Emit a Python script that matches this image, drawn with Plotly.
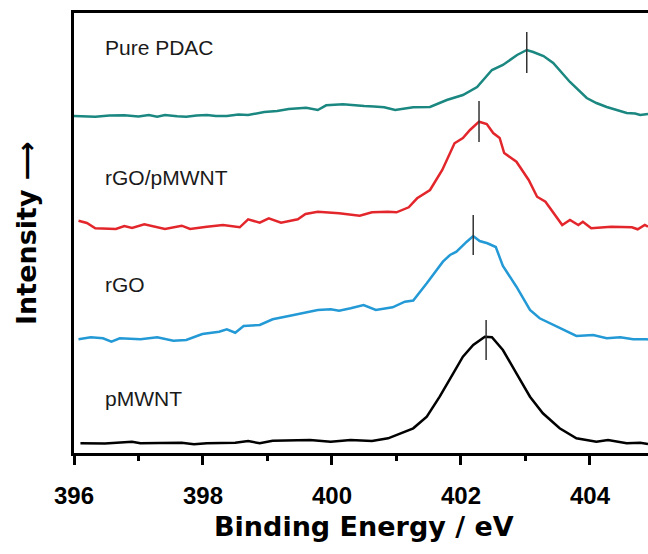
import plotly.graph_objects as go

# ---- data (binding energy in eV, intensity in arbitrary stacked units) ----
energy_pdac = [396.00, 396.33, 396.55, 396.78, 397.00, 397.16, 397.29, 397.41, 397.60, 397.74, 397.90,
               398.06, 398.20, 398.37, 398.55, 398.70, 398.95, 399.15, 399.33, 399.60, 399.78, 399.91,
               400.17, 400.35, 400.50, 400.65, 400.81, 400.98, 401.26, 401.52, 401.78, 402.03, 402.25,
               402.48, 402.65, 402.87, 403.02, 403.12, 403.28, 403.43, 403.69, 403.95, 404.10, 404.26,
               404.40, 404.57, 404.70, 404.78, 404.90]
int_pdac = [337, 336.3, 337.5, 337.7, 336.5, 338, 336.3, 338, 336.8, 336.3, 337.5,
            338, 337, 337, 338.5, 338, 341, 342, 344, 345.3, 343, 347.7,
            348.7, 347.5, 347, 346.5, 345.7, 343, 345.7, 346, 353, 358, 366,
            383, 388, 398, 403, 401, 397, 390, 371, 355, 350, 346,
            343, 340, 339.5, 338, 339]

energy_rgo_pmwnt = [396.07, 396.20, 396.33, 396.65, 396.78, 396.90, 397.09, 397.25, 397.41, 397.67, 397.80,
                    398.06, 398.31, 398.57, 398.70, 398.88, 399.02, 399.21, 399.47, 399.59, 399.78,
                    400.11, 400.43, 400.62, 400.87, 401.00, 401.19, 401.32, 401.52, 401.71, 401.90,
                    402.03, 402.14, 402.28, 402.40, 402.50, 402.60, 402.67, 402.86, 403.05, 403.18,
                    403.31, 403.57, 403.69, 403.82, 403.89, 404.02, 404.33, 404.65, 404.74, 404.85, 404.90]
int_rgo_pmwnt = [232.3, 230, 224.7, 224, 227, 225, 228.7, 226, 224, 227.3, 224,
                 226.3, 228, 225.7, 233.7, 230.3, 234.7, 230.3, 233.7, 239, 241.3,
                 239.7, 237.3, 240.7, 241.3, 240.7, 245.7, 254.7, 263, 283, 309.7,
                 315, 323, 331.3, 329, 320, 315, 300, 291.3, 273, 256.3,
                 251.3, 228, 233, 228, 231.3, 224.7, 226.3, 225.7, 223.7, 228, 226.3]

energy_rgo = [396.07, 396.26, 396.45, 396.58, 396.71, 397.03, 397.29, 397.54, 397.74, 397.99, 398.25,
              398.37, 398.50, 398.63, 398.88, 399.08, 399.33, 399.59, 399.78, 399.98, 400.11, 400.29,
              400.49, 400.68, 400.94, 401.13, 401.26, 401.47, 401.72, 401.83, 401.93, 402.09, 402.19,
              402.29, 402.41, 402.54, 402.65, 402.86, 403.07, 403.22, 403.48, 403.79, 404.05, 404.26,
              404.47, 404.67, 404.88, 404.90]
int_rgo = [113.7, 115.7, 114.7, 111.3, 114.7, 113.7, 115.7, 112.3, 113, 119, 121.3,
           123.7, 120.3, 127, 128, 133.7, 137, 140.3, 143, 143.7, 142.3, 144.7,
           148, 143, 145.7, 151.3, 152.5, 169.7, 191.3, 198, 201.3, 211.3, 217,
           212, 209.7, 206, 187, 166.3, 143, 134.7, 126.3, 117, 118, 114.7,
           115.7, 113.7, 113.7, 113.5]

energy_pmwnt = [396.10, 396.48, 396.90, 397.03, 397.33, 397.67, 397.86, 398.06, 398.50, 398.70, 398.88,
                399.08, 399.66, 399.98, 400.29, 400.62, 400.87, 401.00, 401.26, 401.47, 401.67, 401.88,
                402.03, 402.19, 402.37, 402.48, 402.65, 402.86, 403.07, 403.27, 403.53, 403.79, 404.10,
                404.28, 404.57, 404.78, 404.90]
int_pmwnt = [9.7, 9.5, 11.3, 9.7, 10, 10.3, 8.7, 9.7, 10.3, 12, 9.7,
             12.3, 13, 11.3, 13, 12, 14.7, 18, 24.7, 36.3, 56.3, 79.7,
             96.3, 108, 116.3, 115.7, 103, 79.7, 56.3, 39.7, 24.7, 14.7, 11.3,
             13, 9.7, 10.3, 9]

series_names = ["Pure PDAC", "rGO/pMWNT", "rGO", "pMWNT"]
series_colors = ["#1a8780", "#e3262b", "#2399d6", "#000000"]

peak_positions = [403.02, 402.28, 402.19, 402.39]
peak_marker_low = [380, 311, 198, 93]
peak_marker_high = [421, 352, 238, 133]

label_x = 396.45
label_y = [406, 276, 169, 55]

x_tickvals = [396, 398, 400, 402, 404]
x_range = [396, 404.9]
y_range = [0, 440]

energies = [energy_pdac, energy_rgo_pmwnt, energy_rgo, energy_pmwnt]
intensities = [int_pdac, int_rgo_pmwnt, int_rgo, int_pmwnt]

fig = go.Figure()
for e, v, name, col in zip(energies, intensities, series_names, series_colors):
    fig.add_trace(go.Scatter(x=e, y=v, mode="lines", name=name,
                             line=dict(color=col, width=2.5), showlegend=False,
                             hoverinfo="skip"))

for xp, lo, hi in zip(peak_positions, peak_marker_low, peak_marker_high):
    fig.add_trace(go.Scatter(x=[xp, xp], y=[lo, hi], mode="lines",
                             line=dict(color="#333333", width=1.5), showlegend=False,
                             hoverinfo="skip"))

for name, ly in zip(series_names, label_y):
    fig.add_annotation(x=label_x, y=ly, xref="x", yref="y", text=name, showarrow=False,
                       xanchor="left", yanchor="middle",
                       font=dict(family="Liberation Sans, Arial, sans-serif", size=21, color="#1a1a1a"))

fig.add_annotation(x=-0.0836, y=0.5, xref="paper", yref="paper", text="Intensity ⟶",
                   textangle=-90, showarrow=False, xanchor="center", yanchor="middle",
                   font=dict(family="DejaVu Sans", size=27, color="#000000", weight="bold"))
fig.add_annotation(x=0.505, y=-0.168, xref="paper", yref="paper", text="Binding Energy / eV",
                   showarrow=False, xanchor="center", yanchor="middle",
                   font=dict(family="DejaVu Sans", size=27, color="#000000", weight="bold"))

fig.update_xaxes(range=x_range, tickvals=x_tickvals, ticktext=[str(v) for v in x_tickvals],
                 showline=True, linecolor="#000000", linewidth=2.5, mirror=True,
                 ticks="outside", ticklen=9, tickwidth=2.5, tickcolor="#000000",
                 minor=dict(dtick=1, tick0=396, ticks="outside", ticklen=5, tickwidth=2.5,
                            tickcolor="#000000", showgrid=False),
                 showgrid=False, zeroline=False,
                 tickfont=dict(family="Liberation Sans, Arial, sans-serif", size=24,
                               color="#000000", weight="bold"),
                 ticklabelstandoff=10)
fig.update_yaxes(range=y_range, showline=True, linecolor="#000000", linewidth=2.5,
                 mirror=False, showticklabels=False, ticks="", showgrid=False, zeroline=False)

fig.update_layout(width=648, height=554, margin=dict(l=74, r=0, t=13, b=101),
                  paper_bgcolor="white", plot_bgcolor="white")

fig.write_html("out.html")
